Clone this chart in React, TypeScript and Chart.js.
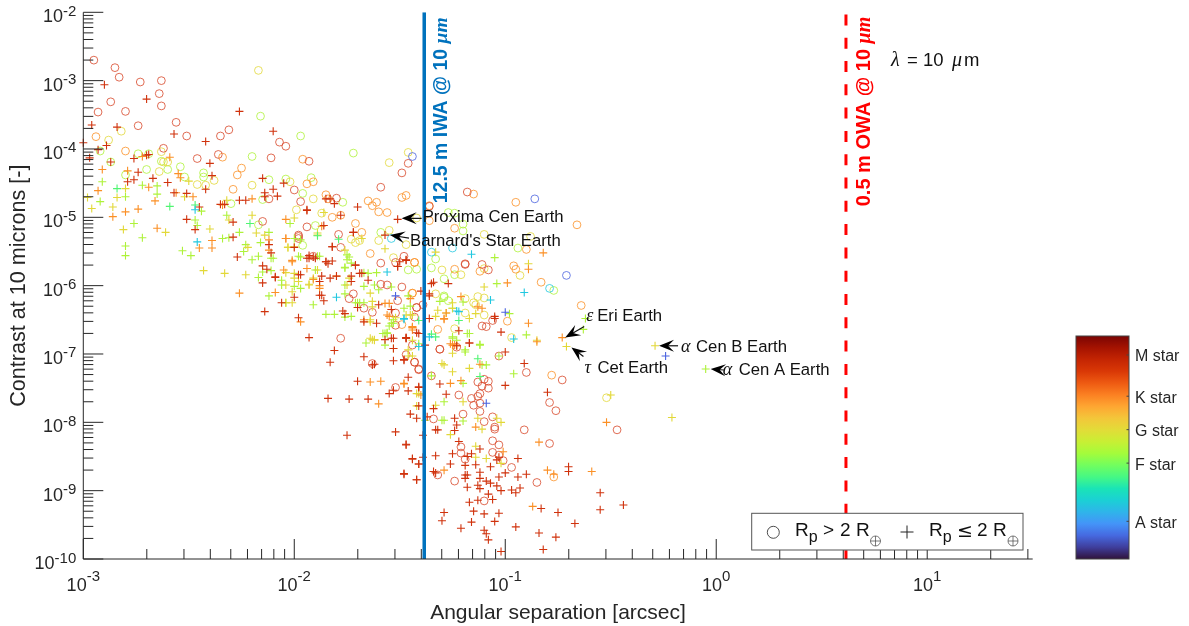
import React, { useEffect, useRef } from "react";
import { Chart, registerables } from "chart.js";
Chart.register(...registerables);

type P = [number, number];
// All pairs: [log10 separation (arcsec), log10 contrast].
const circlesM: P[] = [[-2.95,-2.70],[-2.85,-2.81],[-2.83,-2.95],[-2.73,-3.02],[-2.63,-3.00],[-2.64,-3.19],[-2.87,-3.31],[-2.63,-3.37],[-2.93,-3.46],[-2.80,-3.45],[-2.74,-3.66],[-2.56,-3.61],[-2.51,-3.81],[-2.35,-3.81],[-2.31,-3.72],[-2.07,-3.90],[-2.04,-3.96],[-2.62,-3.99],[-2.46,-4.14],[-2.36,-4.08],[-2.11,-4.13],[-1.93,-4.18],[-1.46,-4.21],[-1.49,-4.35],[-1.59,-4.56],[-2.00,-4.60],[-1.97,-4.77],[-2.12,-4.73],[-1.80,-4.72],[-2.15,-5.06],[-1.94,-5.14],[-1.98,-5.26],[-1.98,-5.31],[-1.98,-5.28],[-1.79,-5.25],[-1.78,-5.44],[-1.91,-5.57],[-1.59,-5.67],[-1.52,-5.66],[-1.48,-5.57],[-1.59,-5.98],[-1.56,-5.99],[-1.49,-6.02],
[-1.18,-4.63],[-1.36,-4.84],[-1.19,-5.68],[-1.19,-5.69],[-1.11,-5.69],[-1.08,-5.77],[-1.06,-6.51],[-1.09,-6.60],[-1.11,-6.59],[-1.31,-6.93],[-1.23,-6.90],[-1.42,-6.32],[-1.43,-7.12],[-1.41,-7.23],[-1.35,-7.32],[-1.13,-7.41],[-1.10,-7.37],[-1.08,-7.40],[-1.11,-7.47],[-1.08,-7.50],[-1.22,-7.60],[-1.16,-7.65],[-1.13,-7.62],[-1.12,-7.58],[-1.15,-7.75],[-1.12,-7.72],[-1.20,-7.88],[-1.12,-7.84],[-0.90,-7.27],[-0.73,-7.38],[-0.79,-7.71],[-0.76,-7.83],[-0.47,-8.11],[-1.34,-7.95],[-1.10,-7.99],[-1.06,-7.92],[-1.05,-8.07],[-1.05,-8.10],[-0.91,-8.11],[-0.79,-8.31],[-1.06,-8.27],[-1.03,-8.33],[-1.21,-8.36],[-1.21,-8.45],[-1.19,-8.54],[-1.06,-8.44],[-1.03,-8.48],[-1.01,-8.56],[-0.97,-8.66],[-0.85,-8.88],[-1.32,-8.77],[-1.24,-8.86],[-1.10,-9.15],
[-1.74,-6.19],[-1.72,-6.12],[-1.67,-6.33],[-1.63,-6.39],[-1.78,-6.77],[-1.63,-7.14],[-1.52,-7.49],[-1.52,-6.58],[-1.52,-6.40],[-1.51,-6.22],[-1.42,-6.32],[-1.43,-6.46],[-1.44,-6.87],[-1.47,-7.01],[-1.43,-7.12],[-1.41,-7.22],[-1.39,-6.28],[-1.31,-6.93],[-1.03,-7.03]];
const circlesK: P[] = [[-2.94,-3.82],[-2.80,-4.03],[-2.34,-4.12],[-1.96,-4.15],[-2.27,-4.38],[-2.25,-4.28],[-2.29,-4.59],[-1.94,-4.51],[-1.91,-4.48],[-1.85,-4.67],[-1.84,-4.73],[-1.47,-4.68],[-1.49,-4.71],[-1.65,-4.76],[-1.63,-4.83],[-1.61,-4.78],[-1.60,-4.92],[-1.56,-4.93],[-1.82,-5.00],[-1.78,-4.97],[-1.71,-5.09],[-1.68,-5.22],[-1.64,-5.53],[-1.43,-5.66],[-1.36,-5.05],[-1.24,-5.16],[-1.15,-4.66],[-0.95,-4.78],[-0.66,-5.11],[-0.90,-5.47],[-1.24,-5.76],[-1.12,-5.79],[-0.96,-5.71],[-0.95,-5.76],[-0.83,-5.95],[-0.64,-6.29],[-0.99,-6.52],[-1.32,-6.64],[-1.44,-6.11],[-1.43,-5.66],[-0.78,-7.31],[-0.77,-8.80],[-1.36,-4.83],[-1.49,-6.57],[-1.44,-6.11]];
const circlesY: P[] = [[-2.17,-2.85],[-2.63,-4.04],[-2.60,-4.19],[-2.62,-4.19],[-2.64,-4.33],[-2.46,-4.52],[-2.42,-4.53],[-2.38,-4.46],[-2.20,-4.53],[-2.02,-4.48],[-1.91,-4.73],[-1.99,-4.89],[-1.87,-4.94],[-1.42,-5.01],[-1.55,-5.19],[-1.53,-5.59],[-2.82,-3.74],[-2.88,-3.87],[-1.55,-4.20],[-1.46,-4.05],[-1.47,-5.40],[-1.73,-5.32],[-1.71,-5.37],[-1.69,-5.34],[-1.60,-5.34],[-1.10,-5.25],[-0.88,-5.28],[-1.30,-5.77],[-1.10,-5.75],[-0.93,-5.85],[-1.21,-5.84],[-1.33,-6.12],[-1.19,-6.19],[-1.13,-6.16],[-1.10,-6.18],[-1.15,-6.25],[-1.14,-6.28],[-1.19,-6.40],[-1.10,-6.43],[-0.97,-6.76],[-1.24,-6.63],[-0.52,-7.64]];
const circlesL: P[] = [[-2.16,-3.52],[-1.97,-3.81],[-1.72,-4.06],[-2.92,-4.03],[-2.74,-4.07],[-2.69,-4.07],[-2.87,-4.19],[-2.63,-4.18],[-2.60,-4.30],[-2.70,-4.30],[-2.54,-4.26],[-2.80,-4.38],[-2.52,-4.41],[-2.43,-4.35],[-2.43,-4.41],[-2.12,-4.45],[-2.04,-4.44],[-2.20,-4.11],[-1.92,-4.42],[-1.96,-4.65],[-1.77,-4.78],[-2.15,-4.74],[-1.90,-5.12],[-1.59,-5.22],[-1.96,-5.41],[-1.42,-5.76],[-1.46,-5.77],[-2.30,-4.80],[-2.17,-5.11],[-1.27,-4.93],[-1.24,-4.94],[-1.20,-5.10],[-1.20,-5.20],[-0.94,-5.45],[-1.33,-5.61],[-1.35,-5.74],[-1.29,-5.90],[-1.24,-5.84],[-0.77,-6.07],[-1.29,-6.15],[-1.29,-6.17],[-1.27,-6.22]];
const circlesA: P[] = [[-1.44,-4.11],[-0.86,-4.73],[-0.71,-5.85]];
const circlesC: P[] = [[-1.54,-5.31],[-1.35,-5.51],[-1.25,-5.45],[-0.79,-6.04]];
const plusM: P[] = [[-2.90,-3.06],[-2.70,-3.27],[-2.96,-3.65],[-2.84,-3.68],[-2.26,-3.45],[-2.10,-3.74],[-2.57,-3.78],[-2.42,-3.89],[-3.00,-3.91],[-2.89,-3.95],[-2.93,-4.01],[-2.97,-4.13],[-2.87,-4.19],[-2.76,-4.14],[-2.70,-4.09],[-2.69,-4.08],[-2.40,-4.21],[-2.39,-4.39],[-2.74,-4.34],[-2.79,-4.48],[-2.76,-4.45],[-2.67,-4.43],[-2.60,-4.49],[-2.42,-4.59],[-2.15,-4.43],[-2.05,-4.50],[-2.14,-4.64],[-2.14,-4.70],[-2.10,-4.59],[-2.08,-4.69],[-2.51,-4.65],[-2.57,-4.64],[-2.45,-4.85],[-2.35,-4.81],[-2.33,-4.81],[-2.26,-4.75],[-2.23,-4.75],[-1.94,-4.90],[-1.85,-4.73],[-1.83,-4.73],[-1.81,-4.80],[-1.70,-4.85],[-1.78,-4.97],[-1.51,-5.03],[-2.51,-5.03],[-2.47,-5.18],[-2.29,-5.07],[-1.86,-5.12],[-1.72,-5.22],[-1.57,-5.26],[-2.29,-5.29],[-2.12,-5.40],[-2.11,-5.52],[-1.82,-5.43],[-2.00,-5.44],[-2.27,-5.58],[-2.15,-5.71],[-2.13,-5.76],[-2.09,-5.87],[-2.15,-5.96],[-1.98,-5.84],[-1.94,-5.60],[-1.93,-5.60],[-1.90,-5.60],[-1.85,-5.65],[-1.82,-5.64],[-1.71,-5.70],[-1.68,-5.82],[-1.87,-5.86],[-1.88,-5.94],[-1.83,-5.89],[-1.80,-5.86],[-1.73,-5.86],[-1.73,-5.94],[-1.65,-5.92],[-1.47,-5.63],[-1.51,-5.72],
[-1.27,-5.97],[-1.35,-5.97],[-1.36,-6.12],[-1.40,-6.08],[-1.05,-6.45],[-1.36,-6.48],[-1.02,-6.68],[-1.22,-6.66],[-1.47,-6.77],[-1.17,-6.84],[-1.00,-6.97],[-1.23,-6.88],
[-1.48,-7.08],[-1.46,-7.34],[-1.41,-7.49],[-1.46,-7.54],[-1.31,-7.44],[-1.28,-7.59],[-1.34,-7.80],[-1.45,-7.88],[-1.42,-7.94],[-1.37,-7.92],[-1.24,-7.94],[-1.23,-8.04],[-1.33,-8.11],[-1.32,-8.11],[-1.24,-8.12],[-1.39,-8.19],[-1.47,-8.33],[-1.22,-8.28],[-1.12,-8.39],[-1.18,-8.50],[-1.16,-8.46],[-1.25,-8.46],[-1.33,-8.49],[-1.39,-8.51],[-1.44,-8.54],[-1.41,-8.61],[-1.26,-8.61],[-1.19,-8.63],[-1.14,-8.62],[-1.07,-8.65],[-1.04,-8.55],[-1.03,-8.51],[-0.94,-8.53],[-1.48,-8.76],[-1.42,-8.84],[-1.34,-8.72],[-1.33,-8.74],[-1.19,-8.77],[-1.18,-8.77],[-1.19,-8.82],[-1.12,-8.73],[-1.12,-8.82],[-1.09,-8.86],[-1.07,-8.89],[-1.03,-8.80],[-1.00,-8.74],[-0.94,-8.80],[-0.90,-8.76],[-0.70,-8.65],[-0.70,-8.72],[-1.13,-8.92],[-1.12,-8.97],[-1.18,-8.95],[-1.04,-8.93],[-1.02,-9.00],[-0.97,-8.99],[-0.95,-9.03],[-0.93,-8.96],[-0.55,-9.03],[-0.83,-9.26],[-0.75,-9.32],[-0.55,-9.28],[-0.44,-9.21],[-1.17,-9.17],[-1.13,-9.14],[-1.08,-9.05],[-1.06,-9.13],[-1.29,-9.32],[-1.15,-9.30],[-1.10,-9.34],[-1.03,-9.33],[-1.30,-9.44],[-1.16,-9.46],[-1.05,-9.45],[-1.21,-9.55],[-1.10,-9.58],[-1.09,-9.63],[-1.08,-9.72],[-0.95,-9.53],[-0.67,-9.48],[-0.84,-9.62],[-0.76,-9.68],[-0.82,-9.86],[-1.02,-9.89],[-0.80,-7.56],[-1.00,-7.46],[-0.91,-7.14],
[-2.00,-6.17],[-2.06,-6.25],[-2.14,-6.38],[-1.88,-6.14],[-1.86,-6.22],[-1.98,-6.47],[-1.93,-6.76],[-1.77,-6.37],[-1.76,-6.41],[-1.70,-6.32],[-1.67,-6.53],[-1.60,-6.28],[-1.61,-6.55],[-1.54,-6.35],[-1.47,-6.76],[-1.57,-6.79],[-1.54,-6.77],[-1.53,-6.92],[-1.41,-6.70],[-1.81,-6.95],[-1.83,-7.12],[-1.67,-7.04],[-1.63,-7.16],[-1.62,-7.15],[-1.53,-7.10],[-1.48,-7.09],[-1.41,-7.48],[-1.70,-7.40],[-1.84,-7.65],[-1.74,-7.66],[-1.65,-7.66],[-1.55,-7.58],[-1.53,-7.53],[-1.41,-7.76],[-1.75,-8.19],[-1.52,-8.14],[-1.47,-8.32],[-1.44,-8.53],[-1.41,-8.61],[-1.48,-8.75],[-1.42,-8.84],
[-1.94,-4.89],[-1.82,-5.43],[-1.72,-5.22],[-1.71,-5.70],[-1.69,-5.82],[-1.97,-5.84],[-2.09,-5.88],[-1.87,-6.14],[-1.91,-5.58],[-1.93,-5.56],[-1.85,-5.65],[-1.84,-5.68],[-1.50,-5.65],[-1.47,-5.62],[-1.51,-5.72],[-1.53,-6.77],[-1.47,-6.77],[-1.42,-6.69],[-1.34,-5.95],[-1.36,-6.15],[-1.38,-6.87],[-1.17,-6.84],[-1.05,-6.48]];
const plusK: P[] = [[-2.91,-4.30],[-2.79,-4.32],[-2.72,-4.11],[-2.59,-4.12],[-2.93,-4.61],[-2.69,-4.56],[-2.55,-4.36],[-2.54,-4.42],[-2.66,-4.76],[-2.80,-4.92],[-2.86,-4.99],[-2.74,-4.88],[-2.65,-5.16],[-2.56,-4.64],[-2.48,-4.70],[-2.34,-4.82],[-2.20,-4.73],[-2.04,-5.03],[-2.04,-5.31],[-2.39,-5.45],[-2.39,-5.34],[-2.45,-5.45],[-2.12,-5.33],[-2.12,-5.48],[-2.01,-5.65],[-2.05,-5.77],[-1.94,-5.75],[-1.91,-5.91],[-1.88,-6.00],[-0.82,-5.52],[-0.89,-5.76],[-0.99,-5.96],[-1.21,-6.16],[-1.29,-6.49],[-1.13,-6.31],[-1.11,-6.33],[-1.45,-6.19],[-0.89,-6.55],[-1.44,-6.62],[-1.44,-6.65],[-1.26,-6.85],[-0.85,-6.82],[-0.73,-6.76],[-0.80,-8.70],[-0.77,-8.76],[-0.59,-8.72],[-0.87,-9.23],[-0.84,-8.29],[-0.52,-8.00],[-1.21,-7.39],[-1.26,-7.43],[-1.12,-7.15],[-1.14,-8.07],[-1.01,-8.43],[-1.29,-8.70],[-1.48,-7.43],[-1.40,-7.60],[-2.26,-6.11],[-2.09,-6.10],[-1.97,-6.53],[-1.67,-6.50],[-1.57,-6.26],[-1.56,-6.43],[-1.44,-6.61],[-1.48,-7.44],[-1.64,-7.41],[-1.59,-7.40],[-1.60,-7.73],
[-2.04,-5.31],[-1.87,-5.13],[-2.01,-5.63],[-1.80,-5.86],[-1.88,-6.04],[-1.55,-6.26],[-1.55,-6.45],[-1.44,-6.60],[-1.25,-6.87],[-1.24,-6.87],[-1.29,-6.48],[-1.28,-6.40],[-1.23,-6.88]];
const plusY: P[] = [[-2.98,-4.71],[-2.96,-4.87],[-2.86,-4.85],[-2.84,-4.71],[-2.80,-4.58],[-2.81,-5.18],[-2.61,-5.22],[-2.50,-4.47],[-2.52,-4.70],[-2.40,-5.17],[-2.32,-4.75],[-2.20,-4.97],[-2.31,-5.04],[-2.18,-5.23],[-2.14,-5.26],[-2.22,-5.44],[-2.03,-5.44],[-2.00,-5.01],[-1.86,-4.93],[-1.89,-5.23],[-1.68,-5.31],[-1.57,-5.46],[-2.43,-5.78],[-2.33,-5.82],[-2.23,-5.84],[-2.00,-5.89],[-2.04,-5.99],[-1.98,-5.94],[-1.93,-5.98],[-0.89,-5.68],[-1.33,-5.51],[-1.32,-6.36],[-1.28,-6.40],[-1.17,-6.48],[-1.14,-6.41],[-1.33,-6.45],[-1.10,-6.02],[-0.71,-6.89],[-0.29,-6.88],[-0.50,-7.60],[-0.21,-7.93],[-1.26,-8.18],[-1.11,-8.10],[-1.33,-7.75],[-1.42,-7.76],[-1.20,-7.70],[-1.29,-7.16],[-1.30,-7.14],[-1.25,-7.26],[-1.17,-7.21],[-1.13,-7.94],[-1.04,-7.94],[-1.02,-8.00],[-1.14,-8.35],[-1.14,-8.51],[-1.09,-8.53],[-1.02,-8.60],[-1.42,-7.58],[-1.63,-6.23],[-1.63,-6.31],[-1.64,-6.53],[-1.63,-6.79],[-1.62,-6.80],[-1.53,-6.92],[-1.44,-6.80],[-1.46,-6.94],[-1.44,-7.03],[-1.46,-7.03],[-1.41,-7.58],[-2.01,-6.25],[-2.04,-6.25],[-1.52,-6.47],[-0.85,-6.80],
[-1.89,-5.26],[-1.76,-5.48],[-2.03,-5.44],[-2.00,-5.43],[-2.04,-5.81],[-2.00,-5.82],[-1.89,-5.77],[-1.91,-5.89],[-1.93,-5.99],[-1.74,-5.89],[-1.75,-5.99],[-1.64,-6.11],[-2.01,-6.09],[-1.47,-6.43],[-1.45,-6.43],[-1.44,-6.43],[-1.64,-6.50],[-1.64,-6.77],[-1.62,-6.79],[-1.25,-6.99],[-1.25,-6.25],[-1.25,-6.33]];
const plusL: P[] = [[-2.91,-4.48],[-2.92,-4.77],[-2.80,-4.70],[-2.72,-4.53],[-2.65,-4.54],[-2.65,-4.66],[-2.76,-5.09],[-2.72,-5.30],[-2.80,-5.42],[-2.80,-5.56],[-2.44,-4.91],[-2.47,-5.04],[-2.46,-5.12],[-2.53,-5.49],[-2.49,-5.56],[-2.32,-4.97],[-2.26,-5.22],[-2.34,-5.31],[-2.31,-5.30],[-2.23,-5.40],[-2.24,-5.50],[-2.20,-5.62],[-2.17,-5.57],[-2.16,-5.37],[-2.12,-5.22],[-2.11,-5.60],[-2.15,-5.80],[-2.11,-5.78],[-2.17,-5.88],[-2.02,-5.09],[-1.98,-5.57],[-1.89,-5.57],[-1.90,-5.77],[-2.06,-5.99],[-1.76,-5.74],[-1.73,-5.67],[-1.74,-5.58],[-1.67,-5.81],[-1.61,-5.81],[-1.62,-5.99],[-1.54,-6.02],[-1.76,-5.99],[-1.05,-5.59],[-1.04,-5.97],[-1.31,-6.23],[-1.20,-6.24],[-1.25,-6.33],[-0.98,-6.41],[-1.17,-6.70],[-0.90,-6.72],[-0.62,-6.48],[-0.63,-6.64],[-1.25,-6.77],[-1.23,-6.80],[-1.12,-6.87],[-1.19,-6.94],[-1.03,-7.03],[-0.96,-7.29],[-1.11,-7.16],[-1.29,-7.97],[-1.30,-7.97],[-1.20,-7.98],[-1.29,-7.70],[-1.20,-7.43],[-1.38,-7.97],[-1.09,-7.16],[-1.35,-7.32],[-0.05,-7.22],[-2.12,-6.15],[-1.91,-6.28],[-1.85,-6.42],[-1.81,-6.42],[-1.76,-6.46],[-1.73,-6.45],[-1.69,-6.25],[-1.67,-6.25],[-1.54,-6.55],[-1.53,-6.50],[-1.58,-6.70],[-1.56,-6.70],[-1.57,-6.87],[-1.66,-6.84],[-1.41,-6.85],[-1.46,-6.15],[-1.45,-6.30],
[-2.10,-5.60],[-2.00,-5.31],[-1.97,-5.33],[-1.97,-5.58],[-1.88,-5.57],[-1.75,-5.55],[-1.75,-5.62],[-1.76,-5.73],[-1.65,-5.82],[-2.06,-5.92],[-2.00,-6.01],[-1.97,-6.04],[-1.60,-6.06],[-1.67,-6.01],[-2.04,-6.25],[-1.76,-6.12],[-1.71,-6.25],[-1.70,-6.25],[-1.48,-6.33],[-1.55,-6.59],[-1.53,-6.55],[-1.57,-6.70],[-1.56,-6.69],[-1.19,-6.97],[-1.18,-6.70],[-1.12,-6.86],[-1.25,-6.75]];
const plusF: P[] = [[-2.84,-4.58],[-2.59,-4.84],[-2.47,-4.82],[-2.21,-5.09],[-1.79,-5.32],[-1.89,-5.27],[-1.35,-6.71],[-1.33,-6.75],[-1.22,-6.51],[-1.13,-7.07],[-1.12,-7.33],[-1.41,-6.51]];
const plusC: P[] = [[-2.47,-4.89],[-2.46,-5.36],[-1.56,-5.80],[-1.16,-5.54],[-0.91,-6.10],[-1.07,-6.21],[-1.22,-6.38],[-1.23,-6.37],[-1.48,-6.48],[-0.96,-6.78],[-1.80,-6.17],[-1.48,-6.49],[-1.41,-6.89],[-1.36,-6.75]];
const plusA: P[] = [[-1.00,-6.39],[-0.24,-7.03],[-1.52,-6.15],[-1.09,-7.72]];

const iwaX = 0.0413;
const owaX = 4.12;
const yExtent = [1e-2, 1e-10];
const majorX = [-3, -2, -1, 0, 1];
const majorY = [-2, -3, -4, -5, -6, -7, -8, -9, -10];

const starClasses = ["A star", "F star", "G star", "K star", "M star"];
const starTickPos = [0.169, 0.43, 0.58, 0.73, 0.915];
const turboStops = ["#30123b","#3f3e9c","#4669e0","#4494f8","#2fb4ea","#1bd0d5","#1ae4b6","#46f884","#72fe5e","#a4fc3b","#c8ef34","#e2dc38","#f3c63a","#fea632","#fb8022","#ee5a12","#d93806","#c42503","#a51301","#7a0403"];

const SANS = '"Liberation Sans"';
const SERIF = '"Liberation Serif"';
const INK = "#262626";
const C_M = "#d0320c", C_K = "#fb9026", C_Y = "#e2d838", C_L = "#aef23a", C_F = "#50f572", C_C = "#22c8e0", C_A = "#4a62e0";

function seq(ctx: CanvasRenderingContext2D, x: number, y: number, parts: [string, string, number?][]) {
  for (const [t, f, dy] of parts) {
    ctx.font = f;
    ctx.fillText(t, x, y + (dy || 0));
    x += ctx.measureText(t).width;
  }
  return x;
}

function arrow(ctx: CanvasRenderingContext2D, x0: number, y0: number, x1: number, y1: number) {
  const a = Math.atan2(y1 - y0, x1 - x0);
  ctx.save();
  ctx.translate(x1, y1);
  ctx.rotate(a);
  const L = Math.hypot(x1 - x0, y1 - y0);
  ctx.strokeStyle = "#111";
  ctx.lineWidth = 1.2;
  ctx.beginPath(); ctx.moveTo(-L, 0); ctx.lineTo(-6, 0); ctx.stroke();
  ctx.fillStyle = "#000";
  ctx.beginPath();
  ctx.moveTo(0, 0); ctx.lineTo(-15, -6); ctx.lineTo(-9, 0); ctx.lineTo(-15, 6); ctx.closePath();
  ctx.fill();
  ctx.restore();
}

const frame = {
  id: "frame",
  afterDatasetsDraw(chart: any) {
    const ctx: CanvasRenderingContext2D = chart.ctx;
    const { x: sx, y: sy } = chart.scales;
    const a = chart.chartArea;
    ctx.save();
    ctx.strokeStyle = INK;
    ctx.lineWidth = 1;
    ctx.beginPath();
    ctx.moveTo(a.left, a.top); ctx.lineTo(a.left, a.bottom); ctx.lineTo(a.right, a.bottom);
    ctx.stroke();
    const isTick = (v: number) => { const m = v / 10 ** Math.floor(Math.log10(v) + 1e-9); return Math.abs(m - Math.round(m)) < 1e-6; };
    const isMajor = (v: number) => { const l = Math.log10(v); return Math.abs(l - Math.round(l)) < 1e-6; };
    ctx.beginPath();
    for (const t of sx.ticks) {
      if (!isTick(t.value)) continue;
      const p = sx.getPixelForValue(t.value);
      ctx.moveTo(p, a.bottom); ctx.lineTo(p, a.bottom - (isMajor(t.value) ? 20 : 10));
    }
    for (const t of sy.ticks) {
      if (!isTick(t.value)) continue;
      const p = sy.getPixelForValue(t.value);
      ctx.moveTo(a.left, p); ctx.lineTo(a.left + (isMajor(t.value) ? 20 : 10), p);
    }
    ctx.stroke();

    // Tick labels
    ctx.fillStyle = INK;
    ctx.textBaseline = "alphabetic";
    ctx.textAlign = "left";
    const baseFont = `18px ${SANS}`, expFont = `15px ${SANS}`;
    const width = (e: string) => { ctx.font = baseFont; const w = ctx.measureText("10").width; ctx.font = expFont; return w + ctx.measureText(e).width; };
    for (const e of majorX) {
      const s = String(e), w = width(s);
      const p = sx.getPixelForValue(10 ** e);
      seq(ctx, p - w / 2, a.bottom + 32, [["10", baseFont], [s, expFont, -10]]);
    }
    for (const e of majorY) {
      const s = String(e), w = width(s);
      const p = sy.getPixelForValue(10 ** e);
      seq(ctx, a.left - 7 - w, p + 10, [["10", baseFont], [s, expFont, -6.5]]);
    }

    // Rotated instrument labels
    const rot = (x: number, y: number, color: string, t: string, size: number) => {
      ctx.save();
      ctx.translate(x, y); ctx.rotate(-Math.PI / 2);
      ctx.fillStyle = color;
      seq(ctx, 0, 0, [[t, `bold ${size}px ${SANS}`], ["\u03bcm", `italic bold ${size}px ${SERIF}`]]);
      ctx.restore();
    };
    rot(sx.getPixelForValue(iwaX) + 23, a.top + 191, "#0072bd", "12.5 m IWA @ 10 ", 19.5);
    rot(sx.getPixelForValue(owaX) + 24, a.top + 194, "#ff0000", "0.5 m OWA @ 10 ", 20);

    // Annotations
    ctx.fillStyle = "#111";
    const lab = `16.7px ${SANS}`, gr = `italic 18px ${SERIF}`;
    const px = (lx: number) => sx.getPixelForValue(10 ** lx);
    const py = (ly: number) => sy.getPixelForValue(10 ** ly);
    const note = (lx: number, ly: number, sym: string, text: string, gap: number, dx: number, dy: number, ax: number, ay: number, bx: number, by: number) => {
      const x = px(lx), y = py(ly);
      arrow(ctx, x + ax, y + ay, x + bx, y + by);
      ctx.fillStyle = "#111";
      if (sym) seq(ctx, x + dx, y + dy, [[sym, gr]]);
      seq(ctx, x + dx + gap, y + dy, [[text, lab]]);
    };
    note(-1.51, -5.03, "", "Proxima Cen Earth", 0, 25, 3, 24, -1, 4, -1);
    note(-1.57, -5.26, "", "Barnard's Star Earth", 0, 25, 11, 24, 3, 5, 0);
    note(-0.73, -6.76, "\u03b5", "Eri Earth", 11, 24, -17, 22, -11, 3, 0);
    note(-0.71, -6.89, "\u03c4", "Cet Earth", 13, 18, 27, 17, 10, 5, 1);
    note(-0.29, -6.88, "\u03b1", "Cen B Earth", 15, 26, 6, 23, 0, 4, 0);
    note(-0.05, -7.22, "\u03b1", "Cen A Earth", 16, 17, 6, 18, 1, 5, 0);

    ctx.fillStyle = "#111";
    const lam = `18.5px ${SANS}`;
    seq(ctx, 891, 66, [["\u03bb", `italic 20px ${SERIF}`]]);
    seq(ctx, 907, 66, [["= 10", lam]]);
    seq(ctx, 952, 66, [["\u03bc", `italic 20px ${SERIF}`]]);
    seq(ctx, 964, 66, [["m", lam]]);

    // Marker key
    ctx.fillStyle = "#fff"; ctx.strokeStyle = "#555"; ctx.lineWidth = 1;
    ctx.fillRect(751.7, 513.3, 271.3, 36.7);
    ctx.strokeRect(751.7, 513.3, 271.3, 36.7);
    ctx.strokeStyle = "#222"; ctx.lineWidth = 0.8;
    ctx.beginPath(); ctx.arc(773.3, 532.3, 6, 0, Math.PI * 2); ctx.stroke();
    ctx.lineWidth = 1;
    ctx.beginPath(); ctx.moveTo(900.5, 532); ctx.lineTo(913.5, 532); ctx.moveTo(907, 525.5); ctx.lineTo(907, 538.5); ctx.stroke();
    const oplus = (x: number, y: number) => {
      ctx.strokeStyle = "#444"; ctx.lineWidth = 0.7;
      ctx.beginPath(); ctx.arc(x, y, 5, 0, Math.PI * 2); ctx.moveTo(x - 5, y); ctx.lineTo(x + 5, y); ctx.moveTo(x, y - 5); ctx.lineTo(x, y + 5); ctx.stroke();
    };
    const big = `19px ${SANS}`, sub = `16px ${SANS}`;
    ctx.fillStyle = "#111";
    seq(ctx, 795, 536, [["R", big], ["p", sub, 6]]);
    seq(ctx, 823, 536, [[">", big]]);
    seq(ctx, 840, 536, [["2", big]]);
    seq(ctx, 856, 536, [["R", big]]);
    oplus(875.5, 541);
    seq(ctx, 929, 536, [["R", big], ["p", sub, 6]]);
    seq(ctx, 957, 537, [["\u2264", `19px "DejaVu Sans"`]]);
    seq(ctx, 977, 536, [["2", big]]);
    seq(ctx, 993, 536, [["R", big]]);
    oplus(1013, 541);
    ctx.restore();
  },
};

const barFrame = {
  id: "barFrame",
  afterDraw(chart: any) {
    const ctx = chart.ctx, a = chart.chartArea, y = chart.scales.y;
    ctx.save();
    ctx.strokeStyle = "#444"; ctx.lineWidth = 1;
    ctx.strokeRect(a.left, a.top, a.right - a.left, a.bottom - a.top);
    ctx.beginPath();
    for (const v of starTickPos) { const p = y.getPixelForValue(v); ctx.moveTo(a.right - 2.5, p); ctx.lineTo(a.right, p); }
    ctx.stroke();
    ctx.restore();
  },
};

const toXY = (pts: P[]) => pts.map(([a, b]) => ({ x: 10 ** a, y: 10 ** b }));

function circleSet(d: P[], color: string) {
  return { data: toXY(d), pointStyle: "circle", pointRadius: 3.9, pointBorderWidth: 0.8, pointBackgroundColor: "transparent", pointBorderColor: color, showLine: false, clip: false };
}
function plusSet(d: P[], color: string) {
  return { data: toXY(d), pointStyle: "cross", pointRadius: 4, pointBorderWidth: 1.1, pointBorderColor: color, showLine: false, clip: false };
}

export default function App() {
  const main = useRef<HTMLCanvasElement>(null);
  const bar = useRef<HTMLCanvasElement>(null);
  useEffect(() => {
    const c1 = new Chart(main.current!, {
      type: "scatter",
      data: {
        datasets: [
          { data: [{ x: iwaX, y: yExtent[0] }, { x: iwaX, y: yExtent[1] }], showLine: true, borderColor: "#0072bd", borderWidth: 3.5, pointRadius: 0 },
          { data: [{ x: owaX, y: yExtent[0] }, { x: owaX, y: yExtent[1] }], showLine: true, borderColor: "#ff0000", borderWidth: 3, borderDash: [11, 12.3], borderDashOffset: 21.2, pointRadius: 0 },
          plusSet(plusA, C_A), plusSet(plusC, C_C), plusSet(plusF, C_F), plusSet(plusM, C_M), plusSet(plusK, C_K), plusSet(plusY, C_Y), plusSet(plusL, C_L),
          circleSet(circlesA, C_A), circleSet(circlesC, C_C), circleSet(circlesM, "#d8482a"), circleSet(circlesK, C_K), circleSet(circlesY, C_Y), circleSet(circlesL, C_L),
        ] as any,
      },
      options: {
        animation: false, responsive: false,
        layout: { padding: { top: 12.3, right: 156.3, left: 0, bottom: 0 } },
        plugins: { legend: { display: false }, tooltip: { enabled: false } },
        scales: {
          x: {
            type: "logarithmic", min: 1e-3, max: 10 ** 1.5,
            grid: { display: false }, border: { display: false }, ticks: { display: false },
            title: { display: true, text: "Angular separation [arcsec]", color: INK, font: { family: "Liberation Sans", size: 21 }, padding: { top: 0, bottom: 0 } },
            afterFit(s: any) { s.height = 67; },
          },
          y: {
            type: "logarithmic", min: 1e-10, max: 1e-2,
            grid: { display: false }, border: { display: false }, ticks: { display: false },
            title: { display: true, text: "Contrast at 10 microns [-]", color: INK, font: { family: "Liberation Sans", size: 21.6 }, padding: { top: 6, bottom: 0 } },
            afterFit(s: any) { s.width = 83.3; },
          },
        },
      } as any,
      plugins: [frame],
    });
    const c2 = new Chart(bar.current!, {
      type: "bar",
      data: {
        labels: [""],
        datasets: [{
          data: [1],
          borderWidth: 0, barPercentage: 1, categoryPercentage: 1,
          backgroundColor: (c: any) => {
            const a = c.chart.chartArea;
            if (!a) return turboStops[0];
            const g = c.chart.ctx.createLinearGradient(0, a.bottom, 0, a.top);
            turboStops.forEach((col, i) => g.addColorStop(i / (turboStops.length - 1), col));
            return g;
          },
        }],
      },
      options: {
        animation: false, responsive: false,
        layout: { padding: { top: 11, bottom: 11, left: 16 } },
        plugins: { legend: { display: false }, tooltip: { enabled: false } },
        scales: {
          x: { display: false },
          y: {
            position: "right", min: 0, max: 1,
            grid: { display: false, drawTicks: false, tickLength: 0 }, border: { display: false },
            afterBuildTicks(s: any) { s.ticks = starTickPos.map((value) => ({ value })); },
            ticks: { autoSkip: false, padding: 6, labelOffset: 2, color: INK, font: { family: "Liberation Sans", size: 16 },
              callback: (v: any) => starClasses[starTickPos.indexOf(v)] ?? "" },
            afterFit(s: any) { s.width = 60; s.paddingTop = 0; s.paddingBottom = 0; },
          },
        },
      } as any,
      plugins: [barFrame],
    });
    return () => { c1.destroy(); c2.destroy(); };
  }, []);
  return (
    <div style={{ position: "absolute", left: 0, top: 0, width: 1189, height: 626, overflow: "hidden", background: "#fff" }}>
      <canvas ref={main} width={1189} height={626} style={{ position: "absolute", left: 0, top: 0 }} />
      <canvas ref={bar} width={129} height={245} style={{ position: "absolute", left: 1060, top: 325 }} />
    </div>
  );
}
